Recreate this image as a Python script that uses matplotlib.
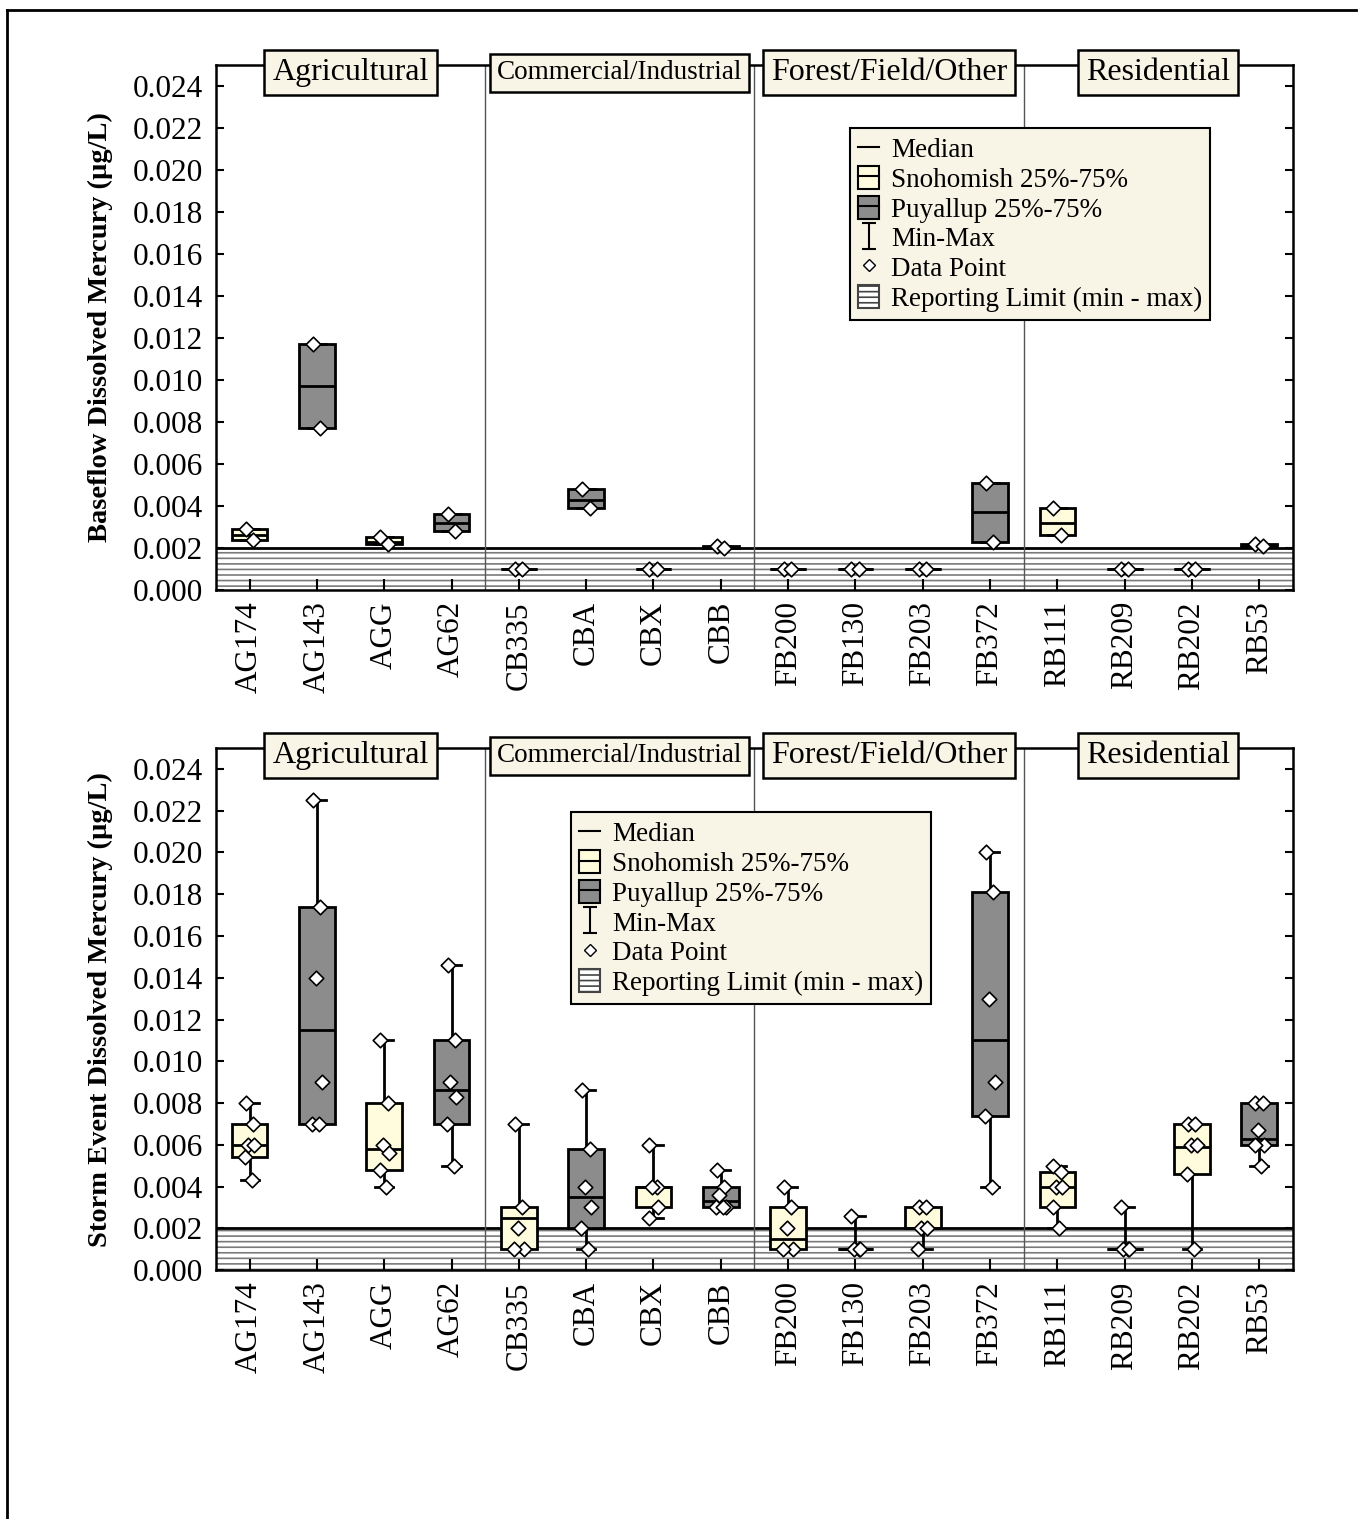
import numpy as np
import matplotlib
matplotlib.use('Agg')
import matplotlib.pyplot as plt
from matplotlib.patches import Patch
from matplotlib.lines import Line2D
from matplotlib.path import Path

plt.rcParams['font.family'] = ['Liberation Serif', 'DejaVu Serif']
plt.rcParams['hatch.linewidth'] = 1.2

# sites and land use groups
sites = ['AG174', 'AG143', 'AGG', 'AG62', 'CB335', 'CBA', 'CBX', 'CBB',
         'FB200', 'FB130', 'FB203', 'FB372', 'RB111', 'RB209', 'RB202', 'RB53']
groups = ['Agricultural', 'Commercial/Industrial', 'Forest/Field/Other', 'Residential']
group_fontsize = [23, 19.5, 23, 23]
# 1 = Puyallup (dark), 0 = Snohomish (light)
puyallup = [0, 1, 0, 1, 0, 1, 0, 1, 0, 0, 0, 1, 0, 0, 0, 1]
reporting_limit = [0.0, 0.002]

# baseflow: min, 25%, median, 75%, max
base_lo = [0.0024, 0.0077, 0.0022, 0.0028, 0.001, 0.0039, 0.001, 0.0020,
           0.001, 0.001, 0.001, 0.0023, 0.0026, 0.001, 0.001, 0.0021]
base_q1 = [0.0024, 0.0077, 0.0022, 0.0028, 0.001, 0.0039, 0.001, 0.0020,
           0.001, 0.001, 0.001, 0.0023, 0.0026, 0.001, 0.001, 0.0021]
base_med = [0.0026, 0.0097, 0.0023, 0.0032, 0.001, 0.0043, 0.001, 0.00205,
            0.001, 0.001, 0.001, 0.0037, 0.0032, 0.001, 0.001, 0.00215]
base_q3 = [0.0029, 0.0117, 0.0025, 0.0036, 0.001, 0.0048, 0.001, 0.0021,
           0.001, 0.001, 0.001, 0.0051, 0.0039, 0.001, 0.001, 0.0022]
base_hi = [0.0029, 0.0117, 0.0025, 0.0036, 0.001, 0.0048, 0.001, 0.0021,
           0.001, 0.001, 0.001, 0.0051, 0.0039, 0.001, 0.001, 0.0022]
base_points = [
    [0.0029, 0.0024], [0.0117, 0.0077], [0.0025, 0.0022], [0.0036, 0.0028],
    [0.001, 0.001], [0.0048, 0.0039], [0.001, 0.001], [0.0021, 0.0020],
    [0.001, 0.001], [0.001, 0.001], [0.001, 0.001], [0.0051, 0.0023],
    [0.0039, 0.0026], [0.001, 0.001], [0.001, 0.001], [0.0022, 0.0021],
]

# storm event: min, 25%, median, 75%, max
storm_lo = [0.0043, 0.0070, 0.0040, 0.0050, 0.0010, 0.0010, 0.0025, 0.0030,
            0.0010, 0.0010, 0.0010, 0.0040, 0.0020, 0.0010, 0.0010, 0.0050]
storm_q1 = [0.0054, 0.0070, 0.0048, 0.0070, 0.0010, 0.0020, 0.0030, 0.0030,
            0.0010, 0.0010, 0.0020, 0.0074, 0.0030, 0.0010, 0.0046, 0.0060]
storm_med = [0.0060, 0.0115, 0.0058, 0.0086, 0.0025, 0.0035, 0.0040, 0.0033,
             0.0015, 0.0010, 0.0020, 0.0110, 0.0040, 0.0010, 0.0059, 0.0063]
storm_q3 = [0.0070, 0.0174, 0.0080, 0.0110, 0.0030, 0.0058, 0.0040, 0.0040,
            0.0030, 0.0010, 0.0030, 0.0181, 0.0047, 0.0010, 0.0070, 0.0080]
storm_hi = [0.0080, 0.0225, 0.0110, 0.0146, 0.0070, 0.0086, 0.0060, 0.0048,
            0.0040, 0.0026, 0.0030, 0.0200, 0.0050, 0.0030, 0.0070, 0.0080]
storm_points = [
    [0.0080, 0.0070, 0.0060, 0.0060, 0.0054, 0.0043],
    [0.0225, 0.0174, 0.0140, 0.0090, 0.0070, 0.0070],
    [0.0110, 0.0080, 0.0060, 0.0056, 0.0048, 0.0040],
    [0.0146, 0.0110, 0.0090, 0.0083, 0.0070, 0.0050],
    [0.0070, 0.0030, 0.0020, 0.0010, 0.0010],
    [0.0086, 0.0058, 0.0040, 0.0030, 0.0020, 0.0010],
    [0.0060, 0.0040, 0.0040, 0.0030, 0.0025],
    [0.0048, 0.0040, 0.0036, 0.0030, 0.0030, 0.0030],
    [0.0040, 0.0030, 0.0020, 0.0010, 0.0010],
    [0.0026, 0.0010, 0.0010, 0.0010],
    [0.0030, 0.0030, 0.0020, 0.0020, 0.0010],
    [0.0200, 0.0181, 0.0130, 0.0090, 0.0074, 0.0040],
    [0.0050, 0.0047, 0.0040, 0.0040, 0.0030, 0.0020],
    [0.0030, 0.0010, 0.0010, 0.0010],
    [0.0070, 0.0070, 0.0060, 0.0060, 0.0046, 0.0010],
    [0.0080, 0.0080, 0.0067, 0.0060, 0.0060, 0.0050],
]

yticks = np.arange(0, 0.0241, 0.002)
light = '#FFFCDD'
dark = '#8C8C8C'
beige = '#F8F5E6'
jitter = [-0.06, 0.05, -0.02, 0.07, -0.07, 0.03]

# I shaped marker for the min-max legend entry
minmax_marker = Path([(-0.5, -1), (0.5, -1), (0, -1), (0, 1), (-0.5, 1), (0.5, 1)],
                     [Path.MOVETO, Path.LINETO, Path.MOVETO, Path.LINETO, Path.MOVETO, Path.LINETO])


def draw_panel(ax, lo, q1, med, q3, hi, points, ylabel, legend_anchor):
    pos = np.arange(len(sites))
    # reporting limit band
    ax.axhspan(reporting_limit[0], reporting_limit[1], facecolor='white', edgecolor='#7a7a7a',
               hatch='---', linewidth=0, zorder=0)
    ax.axhline(reporting_limit[1], color='black', lw=2, zorder=1)
    for g in range(1, len(groups)):
        ax.axvline(4 * g - 0.5, color='#555555', lw=1, zorder=1)

    stats = []
    for i in range(len(sites)):
        stats.append({'whislo': lo[i], 'q1': q1[i], 'med': med[i], 'q3': q3[i],
                      'whishi': hi[i], 'fliers': []})
    bp = ax.bxp(stats, positions=pos, widths=0.53, patch_artist=True, showfliers=False,
                capwidths=0.27, manage_ticks=False,
                boxprops=dict(edgecolor='black', linewidth=2),
                medianprops=dict(color='black', linewidth=2),
                whiskerprops=dict(color='black', linewidth=2),
                capprops=dict(color='black', linewidth=2))
    for i, box in enumerate(bp['boxes']):
        box.set_facecolor(dark if puyallup[i] else light)
        box.set_zorder(2)

    for i, vals in enumerate(points):
        xs = [pos[i] + jitter[k % len(jitter)] for k in range(len(vals))]
        ax.scatter(xs, vals, marker='D', s=55, facecolor='white', edgecolor='black',
                   linewidth=1.2, zorder=4)

    ax.set_xlim(-0.5, len(sites) - 0.5)
    ax.set_ylim(0, 0.025)
    ax.set_yticks(yticks)
    ax.set_yticklabels(['%.3f' % v for v in yticks])
    ax.set_xticks(pos)
    ax.set_xticklabels(sites, rotation=90)
    ax.tick_params(axis='y', direction='in', length=6, width=1.5, labelsize=22.5, pad=9,
                   right=True)
    ax.tick_params(axis='x', direction='in', length=8, width=1.5, labelsize=22.5, pad=8)
    for s in ax.spines.values():
        s.set_linewidth(1.8)
    ax.set_ylabel(ylabel, fontsize=20.5, fontweight='bold')
    ax.yaxis.set_label_coords(-0.096, 0.5)

    # land use labels sitting on the top spine
    for g, name in enumerate(groups):
        ax.text(4 * g + 1.5, 0.985, name, transform=ax.get_xaxis_transform(),
                ha='center', va='center', fontsize=group_fontsize[g], zorder=6,
                bbox=dict(boxstyle='square,pad=0.25', facecolor=beige, edgecolor='black', lw=1.8))

    handles = [
        Line2D([], [], color='black', lw=1.5),
        (Patch(facecolor=light, edgecolor='black', lw=1.5), Line2D([], [], color='black', lw=1.5)),
        (Patch(facecolor=dark, edgecolor='black', lw=1.5), Line2D([], [], color='black', lw=1.5)),
        Line2D([], [], color='black', marker=minmax_marker, markersize=19, linestyle='none',
               markeredgewidth=1.5),
        Line2D([], [], marker='D', color='white', markeredgecolor='black', markersize=6,
               linestyle='none'),
        Patch(facecolor='white', edgecolor='#444444', hatch='---', lw=1.5),
    ]
    labels = ['Median', 'Snohomish 25%-75%', 'Puyallup 25%-75%', 'Min-Max', 'Data Point',
              'Reporting Limit (min - max)']
    leg = ax.legend(handles, labels, loc='upper left', bbox_to_anchor=legend_anchor,
                    fontsize=19.5, frameon=True, fancybox=False, framealpha=1,
                    facecolor=beige, edgecolor='black', labelspacing=0.1, handlelength=0.75,
                    handleheight=0.95, handletextpad=0.45, borderpad=0.3, borderaxespad=0)
    leg.get_frame().set_linewidth(1.5)
    leg.set_zorder(7)


fig = plt.figure(figsize=(13.72, 15.19), dpi=100)
ax1 = fig.add_axes([0.1574, 0.6116, 0.785, 0.3456])
ax2 = fig.add_axes([0.1574, 0.1639, 0.785, 0.3436])

draw_panel(ax1, base_lo, base_q1, base_med, base_q3, base_hi, base_points,
           'Baseflow Dissolved Mercury (µg/L)', (0.589, 0.88))
draw_panel(ax2, storm_lo, storm_q1, storm_med, storm_q3, storm_hi, storm_points,
           'Storm Event Dissolved Mercury (µg/L)', (0.33, 0.877))

# page border (top and left edges)
fig.add_artist(Line2D([0.005, 0.988], [0.9934, 0.9934], color='black', lw=2))
fig.add_artist(Line2D([0.005, 0.005], [0.0, 0.9934], color='black', lw=2))

plt.savefig('out.png', dpi=100)
